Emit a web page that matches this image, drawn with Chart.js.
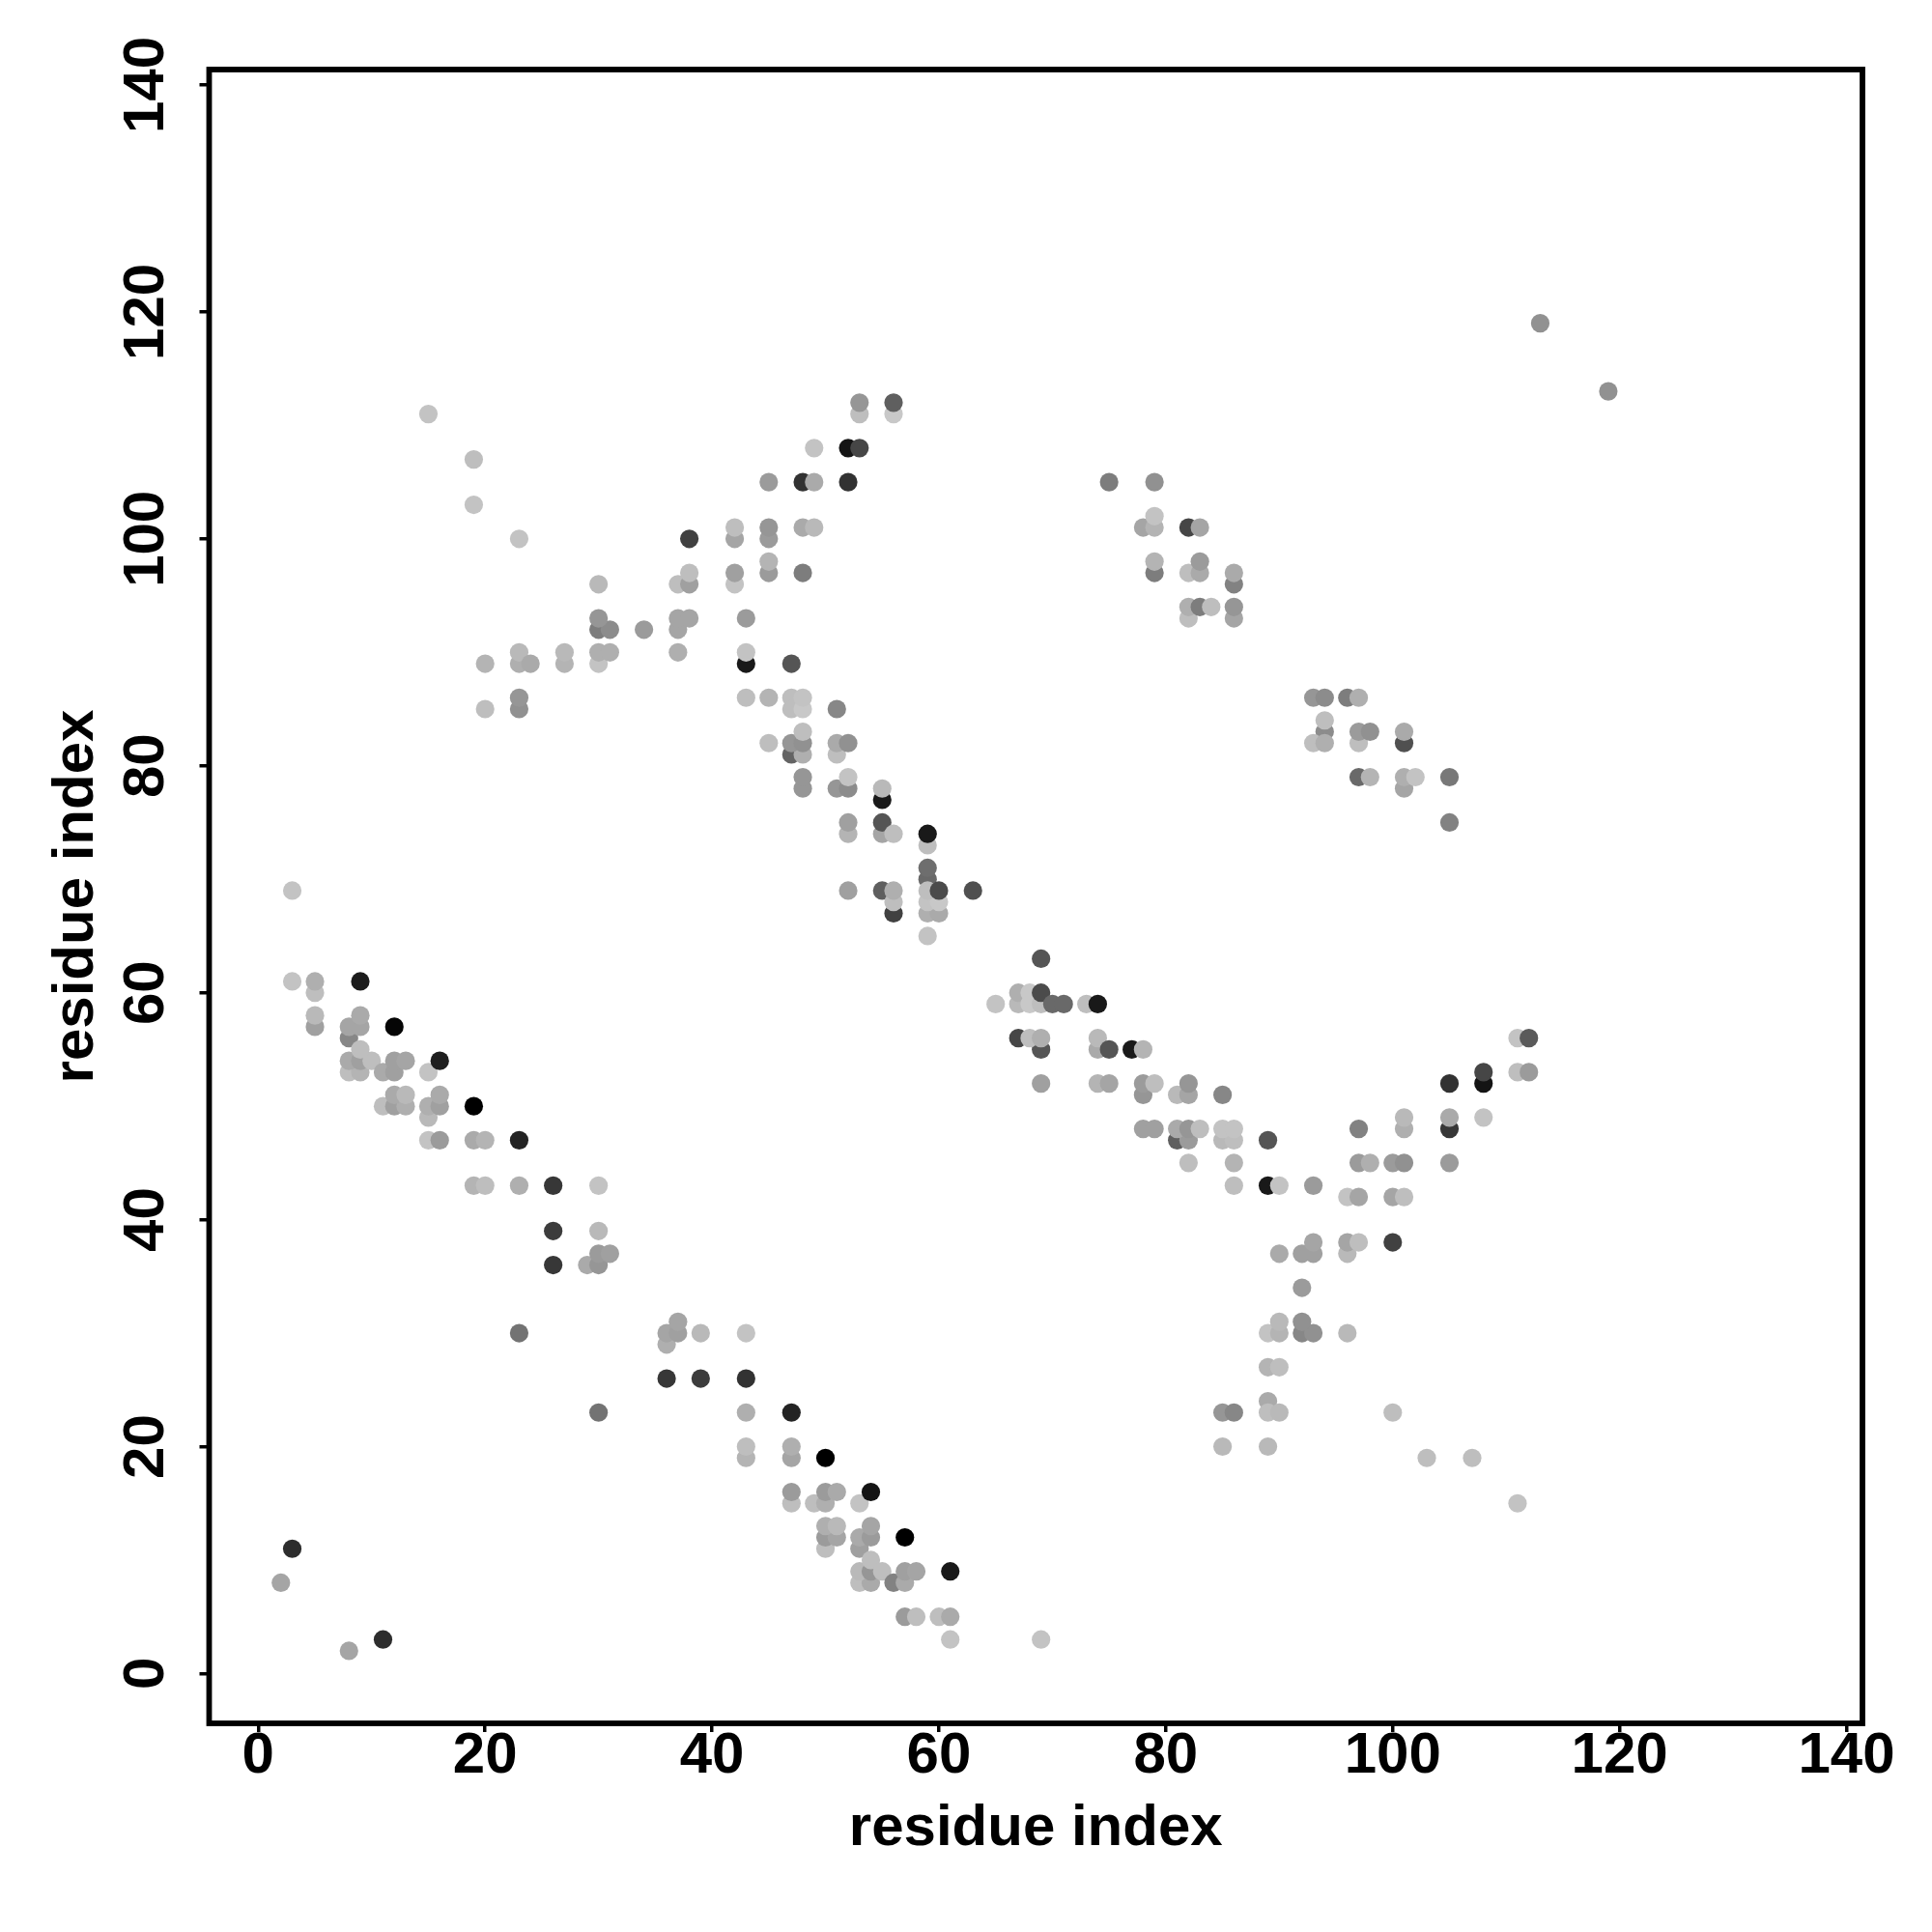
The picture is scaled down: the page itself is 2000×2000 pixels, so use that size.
<!DOCTYPE html>
<html>
<head>
<meta charset="utf-8">
<title>residue contacts</title>
<script src="https://cdn.jsdelivr.net/npm/chart.js@4/dist/chart.umd.min.js"></script>
<style>
html, body { margin: 0; padding: 0; background: #fff; }
canvas { display: block; }
</style>
</head>
<body>
<canvas id="contactMap" width="2000" height="2000"></canvas>
<script>
// tick labels
const xTicks = [0, 20, 40, 60, 80, 100, 120, 140];
const yTicks = [0, 20, 40, 60, 80, 100, 120, 140];

// contacts. later entries sit on top of earlier ones
const residueX = [
  3,2,8,11,3,3,5,5,5,5,
  9,8,8,9,9,12,8,9,8,9,
  10,9,11,12,12,13,15,16,11,12,
  13,12,13,15,15,16,16,19,15,16,
  19,20,23,19,20,23,26,30,26,30,
  26,29,30,30,31,23,30,36,36,37,
  37,39,43,36,39,43,43,47,43,43,
  47,47,50,47,47,49,50,50,51,53,
  54,50,50,51,50,51,53,53,54,54,
  57,53,54,53,54,54,55,56,57,57,
  58,61,57,58,60,61,61,69,15,19,
  19,23,20,20,23,23,23,23,24,27,
  27,30,30,31,30,31,30,30,34,37,
  37,37,38,37,38,38,38,42,42,42,
  42,45,45,45,45,48,48,49,45,48,
  49,52,49,52,53,53,53,56,56,43,
  43,43,47,43,45,47,47,48,48,51,
  47,48,45,47,48,48,51,51,52,48,
  48,51,52,52,55,55,52,52,55,55,
  56,59,59,59,59,52,55,56,56,56,
  59,60,59,60,59,60,63,59,69,65,
  67,67,68,68,69,69,70,71,73,74,
  69,67,68,69,69,74,74,75,77,78,
  74,75,78,78,79,81,82,82,85,78,
  79,81,82,81,82,83,85,86,85,86,
  89,82,86,86,89,90,93,96,97,100,
  101,97,101,101,105,105,105,108,108,108,
  111,112,111,112,97,98,100,101,105,96,
  96,97,100,90,92,93,93,92,89,90,
  90,92,93,92,96,89,90,89,89,90,
  89,85,86,85,100,103,107,111,75,79,
  78,79,79,82,83,79,79,82,83,83,
  86,86,82,82,83,84,86,86,93,94,
  96,97,94,94,93,94,97,97,98,101,
  101,97,98,101,101,102,105,105,113,119
];
const residueY = [
  11,8,2,3,69,61,60,61,57,58,
  61,56,57,57,58,57,53,53,54,54,
  54,55,53,53,54,54,53,54,50,50,
  50,51,51,49,50,50,51,50,47,47,
  47,47,47,43,43,43,43,43,39,39,
  36,36,36,37,37,30,23,29,30,30,
  31,30,30,26,26,26,23,23,19,20,
  19,20,19,15,16,15,15,16,16,15,
  16,11,12,12,13,13,11,12,12,13,
  12,8,8,9,9,10,9,8,8,9,
  9,9,5,5,5,5,3,3,111,107,
  103,100,89,85,85,86,89,90,89,89,
  90,89,90,90,92,92,93,96,92,90,
  92,93,93,96,96,97,100,96,97,100,
  101,97,98,100,101,97,101,101,105,105,
  105,105,108,108,108,111,112,111,112,89,
  90,93,89,86,86,86,85,85,86,85,
  81,81,82,82,82,83,81,82,82,78,
  79,78,78,79,77,78,74,75,74,75,
  74,73,74,70,71,69,69,67,68,69,
  67,67,68,68,69,69,69,65,63,59,
  59,60,59,60,59,60,59,59,59,59,
  55,56,56,56,52,55,56,55,55,55,
  52,52,51,52,52,51,51,52,51,48,
  48,47,47,48,48,48,47,47,48,48,
  47,45,45,43,43,43,43,42,42,42,
  42,48,48,49,48,49,52,52,53,49,
  56,56,53,53,45,45,45,45,45,37,
  38,38,38,37,37,37,38,34,30,30,
  31,30,30,31,30,27,27,24,23,23,
  20,23,23,20,23,19,19,15,105,105,
  101,101,102,101,101,97,98,97,97,98,
  96,97,93,94,94,94,93,94,86,86,
  86,86,83,84,82,82,82,83,83,82,
  83,79,79,78,79,79,79,75,119,113
];
// contact score, 0 = faintest, 200 = strongest (black)
const scores = [
  155,35,35,155,5,5,10,25,40,15,
  172,65,35,35,30,195,10,20,30,40,
  10,10,30,40,40,35,5,170,10,40,
  25,30,15,15,25,40,30,200,5,45,
  30,20,165,20,10,25,145,5,140,15,
  145,30,50,45,40,85,85,25,35,40,
  35,15,5,145,140,150,25,165,20,10,
  35,25,200,10,45,10,25,45,30,5,
  180,10,45,35,25,15,40,30,45,35,
  200,10,30,15,50,10,10,70,30,40,
  35,175,45,10,10,30,5,5,5,10,
  5,5,20,10,55,50,25,15,30,20,
  15,5,25,25,75,60,50,15,45,25,
  35,35,35,10,40,10,135,5,40,35,
  10,45,20,45,50,75,30,15,45,150,
  30,150,5,180,130,10,50,0,105,175,
  5,45,115,10,20,10,10,0,5,65,
  100,25,10,50,55,10,10,30,55,50,
  50,50,60,5,175,15,20,40,35,115,
  10,10,175,95,90,40,105,135,10,25,
  25,30,5,0,10,125,120,5,115,5,
  15,25,0,0,10,125,95,95,10,175,
  115,130,10,25,40,30,15,115,175,20,
  20,35,50,45,10,15,35,50,65,40,
  40,105,45,30,50,10,15,10,5,5,
  115,10,20,10,175,5,45,5,35,35,
  10,70,25,15,145,30,150,180,130,5,
  5,110,10,45,45,25,45,55,45,15,
  35,10,135,30,40,40,35,45,5,20,
  15,65,55,55,15,20,10,30,10,15,
  15,50,65,15,10,10,10,5,75,55,
  35,20,5,130,35,75,20,10,30,45,
  70,30,10,25,75,10,35,50,50,60,
  75,25,60,10,10,25,10,45,55,120,
  30,95,20,35,25,5,80,70,55,55
];

const axisTitle = "residue index";

function scoreToGray(score) {
    const g = 200 - score;
    return `rgb(${g},${g},${g})`;
}

// box around the plot, like R's box()
const frameBox = {
    id: "frameBox",
    afterDraw(chart) {
        const { ctx, chartArea } = chart;
        ctx.save();
        ctx.strokeStyle = "#000";
        ctx.lineWidth = 5.8;
        ctx.strokeRect(chartArea.left, chartArea.top, chartArea.right - chartArea.left, chartArea.bottom - chartArea.top);
        ctx.restore();
    }
};

const labelFont = { family: "'Liberation Sans'", size: 60, weight: "bold", lineHeight: 1 };

const config = {
    type: "scatter",
    data: {
        datasets: [{
            data: residueX.map((x, i) => ({ x: x, y: residueY[i] })),
            pointRadius: 9.6,
            pointBorderWidth: 0,
            pointBackgroundColor: scores.map(scoreToGray),
            showLine: false
        }]
    },
    options: {
        responsive: false,
        animation: false,
        layout: { padding: { left: 0, top: 72, right: 72, bottom: 0 } },
        plugins: {
            legend: { display: false },
            tooltip: { enabled: false }
        },
        scales: {
            x: {
                type: "linear",
                min: -4.325,
                max: 141.4,
                afterFit(scale) { scale.height = 216; },
                afterBuildTicks(scale) { scale.ticks = xTicks.map(v => ({ value: v })); },
                border: { display: false },
                grid: { drawOnChartArea: false, color: "#000", lineWidth: 3.5, tickLength: 9 },
                ticks: { color: "#000", font: labelFont, padding: -5, maxRotation: 0, autoSkip: false },
                title: { display: true, text: axisTitle, color: "#000", font: labelFont, padding: { top: 0, bottom: 76.5 } }
            },
            y: {
                type: "linear",
                min: -4.39,
                max: 141.36,
                afterFit(scale) { scale.width = 216.5; },
                afterBuildTicks(scale) { scale.ticks = yTicks.map(v => ({ value: v })); },
                border: { display: false },
                grid: { drawOnChartArea: false, color: "#000", lineWidth: 3.5, tickLength: 10 },
                ticks: { color: "#000", font: labelFont, padding: 4, minRotation: 90, maxRotation: 90, crossAlign: "center", autoSkip: false },
                title: { display: true, text: axisTitle, color: "#000", font: labelFont, padding: { top: 49, bottom: 0 } }
            }
        }
    },
    plugins: [frameBox]
};

const contactMap = new Chart(document.getElementById("contactMap").getContext("2d"), config);
</script>
</body>
</html>
